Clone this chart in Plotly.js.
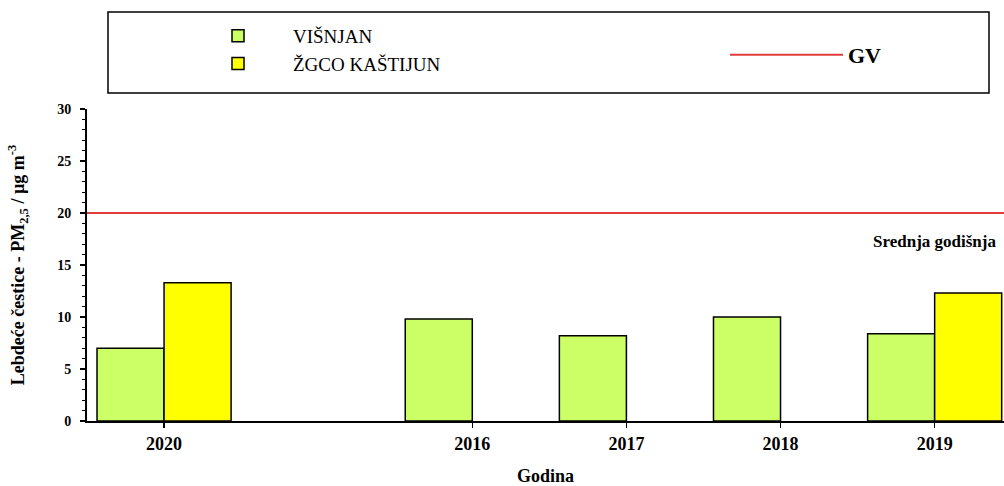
<!DOCTYPE html>
<html>
<head>
<meta charset="utf-8">
<script src="https://cdn.plot.ly/plotly-3.0.1.min.js"></script>
<style>html,body{margin:0;padding:0;background:#fff;}#chart{width:1004px;height:486px;}</style>
</head>
<body>
<div id="chart"></div>
<script>
// ---- data ----
const categories = ["2020", "gap", "2016", "2017", "2018", "2019"];
const tickLabels = ["2020", "", "2016", "2017", "2018", "2019"];
const visnjan = [7.0, null, 9.8, 8.2, 10.0, 8.4];
const zgcoKastijun = [13.3, null, null, null, null, 12.3];
const gvLimit = 20;
const seriesNames = ["VIŠNJAN", "ŽGCO KAŠTIJUN", "GV"];
const yTitle = "Lebdeće čestice - PM<sub>2,5</sub> / µg m<sup>-3</sup>";
const xTitle = "Godina";
const noteText = "Srednja godišnja";

// ---- derived ticks ----
const tickVals = categories.filter((c, i) => tickLabels[i] !== "");
const tickText = tickLabels.filter(t => t !== "");
const tickIdx = categories.map((c, i) => i).filter(i => tickLabels[i] !== "");

const serif = "Liberation Serif, Times New Roman, serif";
const L = 87, W = 1004, T = 109, B = 65, H = 486;
const pw = W - L, ph = H - T - B;
const px = v => (v - L) / pw;
const py = v => (H - B - v) / ph;

const traces = [
  {type: "bar", name: seriesNames[0], x: categories, y: visnjan,
   marker: {color: "#ccff66", line: {color: "#000", width: 1.5}},
   legend: "legend", hoverinfo: "skip"},
  {type: "bar", name: seriesNames[1], x: categories, y: zgcoKastijun,
   marker: {color: "#ffff00", line: {color: "#000", width: 1.5}},
   legend: "legend", hoverinfo: "skip"}
];

const layout = {
  width: W, height: H,
  margin: {l: L, r: 0, t: T, b: B, pad: 0},
  paper_bgcolor: "#fff", plot_bgcolor: "#fff",
  barmode: "group", bargap: 0.13, bargroupgap: 0,
  font: {family: serif, color: "#000"},
  xaxis: {
    type: "category", categoryorder: "array", categoryarray: categories,
    range: [-0.5, 5.45],
    tickmode: "array", tickvals: tickVals, ticktext: tickText,
    ticks: "outside", ticklen: 5, tickwidth: 1.5, tickcolor: "#000",
    showline: true, linewidth: 2, linecolor: "#000",
    showgrid: false, zeroline: false,
    tickfont: {family: serif, size: 18, weight: "bold"},
    title: {text: xTitle, font: {family: serif, size: 18, weight: "bold"}, standoff: 20},
    automargin: false
  },
  xaxis2: {
    overlaying: "x", side: "top", anchor: "y", type: "linear",
    range: [-0.5, 5.45], tickmode: "array", tickvals: tickIdx,
    ticks: "inside", ticklen: 4, tickwidth: 1.5, tickcolor: "#000",
    showticklabels: false, showline: true, linewidth: 2, linecolor: "#000",
    showgrid: false, zeroline: false
  },
  yaxis: {
    range: [0, 30], dtick: 5, tick0: 0,
    ticks: "outside", ticklen: 5, tickwidth: 1.5, tickcolor: "#000",
    ticklabelstandoff: 6,
    minor: {dtick: 1, ticks: "outside", ticklen: 3, tickwidth: 1, tickcolor: "#000", showgrid: false},
    showline: true, linewidth: 2, linecolor: "#000",
    showgrid: false, zeroline: false,
    tickfont: {family: serif, size: 14, weight: "bold"},
    title: {text: yTitle, font: {family: serif, size: 18, weight: "bold"}, standoff: 28},
    automargin: false
  },
  showlegend: true,
  legend: {
    x: px(183), y: py(17), xanchor: "left", yanchor: "top",
    orientation: "v", itemwidth: 100, tracegroupgap: 0,
    font: {family: serif, size: 19, color: "#000"},
    bgcolor: "rgba(0,0,0,0)", borderwidth: 0, itemclick: false
  },
  legend2: {
    x: px(725), y: py(34), xanchor: "left", yanchor: "top",
    itemwidth: 113,
    font: {family: serif, size: 22, color: "#000", weight: "bold"},
    bgcolor: "rgba(0,0,0,0)", borderwidth: 0, itemclick: false
  },
  shapes: [
    {type: "rect", xref: "paper", yref: "paper",
     x0: px(108), x1: px(989), y0: py(93), y1: py(12),
     line: {color: "#000", width: 1.5}, fillcolor: "rgba(0,0,0,0)", layer: "above"},
    {type: "line", xref: "paper", yref: "y", x0: 0, x1: 1, y0: gvLimit, y1: gvLimit,
     line: {color: "#e03c3c", width: 2}, name: seriesNames[2],
     showlegend: true, legend: "legend2", layer: "above"}
  ],
  annotations: [
    {xref: "paper", yref: "paper", x: px(998), y: py(241), xanchor: "right", yanchor: "middle",
     text: noteText, showarrow: false, font: {family: serif, size: 17, weight: "bold"}}
  ]
};

Plotly.newPlot("chart", traces, layout, {staticPlot: true, displayModeBar: false});
</script>
</body>
</html>
